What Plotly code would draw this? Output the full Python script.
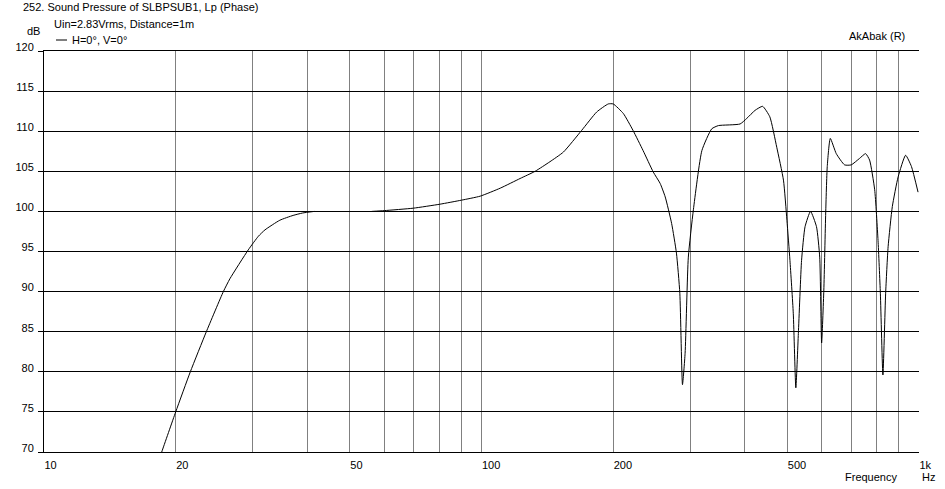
import plotly.graph_objects as go

# ---- data ----
freq_hz = [18.0, 18.58, 20, 21.6, 23.5, 25.7, 26.6, 29.3, 30.9, 32.0, 34.6, 37.1, 39.0, 41.5,
           None,
           56.1, 60, 69.8, 80.4, 90, 99.3, 110.4, 122.5, 132.6, 143.4, 153.9, 169.4, 183.4,
           194.9, 200, 211, 222, 234, 247, 256, 263, 272, 279, 284, 288, 292, 297, 305, 319,
           336, 348, 390, 404, 422, 439, 456, 473, 490, 499, 507, 516, 523, 530, 539, 549,
           565, 583, 593, 599, 606, 612, 617, 627, 647, 676, 700, 731, 755, 771, 792, 806,
           816, 827, 839, 850, 869, 896, 932, 961, 995]
spl_db = [67.8, 70.0, 75.0, 80.0, 85.0, 90.0, 91.6, 95.2, 96.9, 97.7, 98.9, 99.5, 99.8, 100.0,
          None,
          100.0, 100.1, 100.4, 100.9, 101.4, 101.9, 102.9, 104.1, 105.0, 106.2, 107.4, 110.1, 112.4,
          113.4, 113.4, 112.2, 110.1, 107.6, 104.9, 103.5, 101.8, 98.5, 94.8, 89.8, 78.4, 82.3, 94.3, 100.2, 107.6,
          110.3, 110.7, 110.9, 111.6, 112.6, 113.1, 111.8, 108.0, 103.9, 98.9, 93.9, 87.3, 78.0, 84.8, 93.9, 98.1,
          100.0, 98.1, 94.3, 83.6, 90.2, 99.8, 105.6, 109.1, 107.2, 105.8, 105.8, 106.6, 107.2, 106.4, 102.7, 96.4,
          89.8, 79.6, 89.8, 95.6, 100.6, 104.3, 107.0, 105.6, 102.4]

x_tick_vals = [10, 20, 50, 100, 200, 500, 1000]
x_tick_text = ["10", "20", "50", "100", "200", "500", "1k"]
x_minor_vals = [30, 40, 60, 70, 80, 90, 300, 400, 600, 700, 800, 900]
y_tick_vals = [70, 75, 80, 85, 90, 95, 100, 105, 110, 115, 120]

FONT = "Liberation Sans, Arial, sans-serif"

W, H = 945, 489
# plot area in window pixels: x 44..919, y 51..452
L, R, T, B = 44, 919, 51, 452

def px(xp):
    return (xp - L) / (R - L)

def py(yp):
    return (B - yp) / (B - T)

fig = go.Figure()
fig.add_trace(go.Scatter(x=freq_hz, y=spl_db, mode="lines",
                         line=dict(color="black", width=1, shape="spline", smoothing=0.5),
                         connectgaps=False, showlegend=False, name="H=0°, V=0°"))

fig.update_layout(
    width=W, height=H, autosize=False,
    margin=dict(l=L, r=W - R, t=T, b=H - B, pad=0, autoexpand=False),
    paper_bgcolor="white", plot_bgcolor="white",
    font=dict(family=FONT, size=11, color="black"),
    xaxis=dict(type="log", range=[1, 3], automargin=False,
               tickmode="array", tickvals=x_tick_vals, ticktext=x_tick_text,
               ticks="", ticklabelposition="outside right", ticklabelstandoff=3,
               showgrid=True, gridcolor="#808080", gridwidth=1,
               minor=dict(tickmode="array", tickvals=x_minor_vals, showgrid=True,
                          gridcolor="#808080", gridwidth=1, ticks=""),
               showline=True, linecolor="black", linewidth=1, mirror=True,
               zeroline=False, tickfont=dict(family=FONT, size=11, color="black")),
    yaxis=dict(range=[70, 120], tickmode="array", tickvals=y_tick_vals, automargin=False,
               ticks="outside", ticklen=5, tickcolor="black", tickwidth=1,
               ticklabelshift=-4, ticklabelstandoff=2,
               showgrid=True, gridcolor="black", gridwidth=1,
               showline=True, linecolor="black", linewidth=1,
               zeroline=False, tickfont=dict(family=FONT, size=11, color="black")),
)

ann = [
    ("252. Sound Pressure of SLBPSUB1, Lp (Phase)", 21, 7, "left"),
    ("Uin=2.83Vrms, Distance=1m", 52, 24, "left"),
    ("H=0°, V=0°", 70, 40, "left"),
    ("dB", 25, 31, "left"),
    ("AkAbak (R)", 847, 36, "left"),
    ("Frequency", 843, 477, "left"),
    ("Hz", 920, 477, "left"),
]
for text, xp, yp, anchor in ann:
    fig.add_annotation(text=text, xref="paper", yref="paper", x=px(xp), y=py(yp),
                       xanchor=anchor, yanchor="middle", showarrow=False,
                       font=dict(family=FONT, size=11, color="black"))

# legend glyph
fig.add_shape(type="line", xref="paper", yref="paper",
              x0=px(56), x1=px(67), y0=py(40), y1=py(40),
              line=dict(color="black", width=1))

fig.write_html("out.html",
               config={"displayModeBar": False},
               post_script="document.body.style.margin='0';document.body.style.overflow='hidden';")
